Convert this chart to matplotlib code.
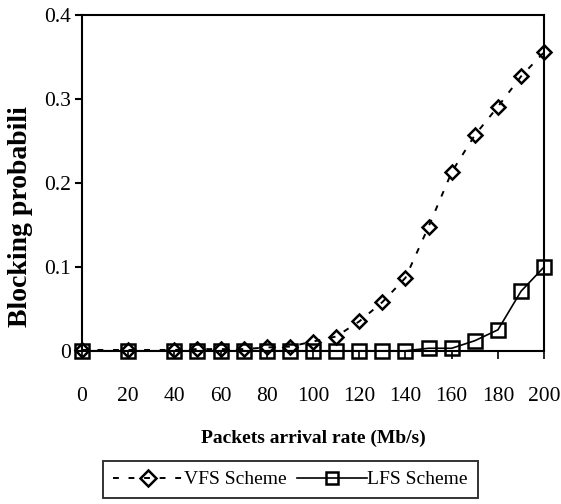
import matplotlib
matplotlib.use('Agg')
import matplotlib.pyplot as plt

plt.rcParams['font.family'] = ['Liberation Serif', 'DejaVu Serif']

# packet arrival rate (Mb/s)
rate = [0, 20, 40, 50, 60, 70, 80, 90, 100, 110, 120, 130, 140, 150, 160, 170, 180, 190, 200]
# blocking probability
vfs = [0.001, 0.001, 0.001, 0.002, 0.002, 0.002, 0.004, 0.005, 0.011, 0.017, 0.035,
       0.058, 0.087, 0.148, 0.213, 0.257, 0.291, 0.327, 0.356]
lfs = [0.0, 0.0, 0.0, 0.0, 0.0, 0.0, 0.0, 0.0, 0.0, 0.0, 0.0,
       0.0, 0.0, 0.003, 0.003, 0.012, 0.025, 0.071, 0.100]
xticks = [0, 20, 40, 60, 80, 100, 120, 140, 160, 180, 200]
yticks = [0, 0.1, 0.2, 0.3, 0.4]
yticklabels = ['0', '0.1', '0.2', '0.3', '0.4']

fig = plt.figure(figsize=(5.61, 5.04), dpi=100)
ax = fig.add_axes([0.146, 0.304, 0.824, 0.666])

ax.plot(rate, vfs, color='black', linestyle=(0, (3, 5)), linewidth=1.4,
        marker='D', markersize=7, markerfacecolor='none', markeredgewidth=1.8,
        label='VFS Scheme', clip_on=False, zorder=3)
ax.plot(rate, lfs, color='black', linestyle='-', linewidth=1.2,
        marker='s', markersize=10, markerfacecolor='none', markeredgewidth=1.8,
        label='LFS Scheme', clip_on=False, zorder=3)

ax.set_xlim(0, 200)
ax.set_ylim(0, 0.4)
ax.set_xticks(xticks)
ax.set_yticks(yticks)
ax.set_yticklabels(yticklabels)
ax.tick_params(axis='y', direction='out', length=5, width=1.5, labelsize=15.5, pad=3)
ax.tick_params(axis='x', direction='out', length=6, width=1.2, labelsize=15.5, pad=20)
for s in ax.spines.values():
    s.set_linewidth(1.5)

ax.set_xlabel('Packets arrival rate (Mb/s)', fontsize=14, fontweight='bold', labelpad=17)
ax.set_ylabel('Blocking probabili', fontsize=20, fontweight='bold')
ax.yaxis.set_label_coords(-0.105, 0.40)

leg = fig.legend(loc='lower center', bbox_to_anchor=(0.518, 0.004), ncol=2, frameon=True,
                 fancybox=False, edgecolor='black', fontsize=14, handlelength=3.6,
                 columnspacing=0.5, handletextpad=0.05, borderpad=0.5, borderaxespad=0.2)
leg.get_frame().set_linewidth(1.4)
for h in leg.legend_handles:
    h.set_markersize(8)

fig.savefig('out.png', dpi=100)
